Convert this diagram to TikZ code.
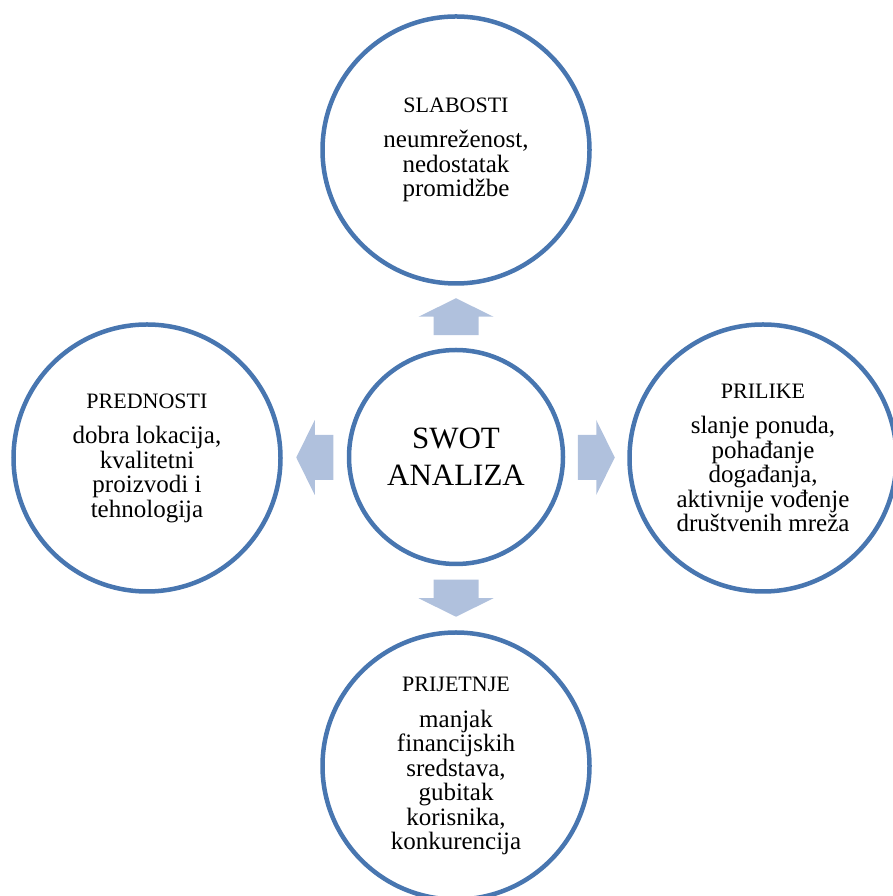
\documentclass[tikz,border=0pt]{standalone}
\usepackage{fontspec}
\setmainfont{Liberation Serif}
\usetikzlibrary{calc}

\definecolor{krugplava}{RGB}{72,118,176}
\definecolor{strelicaplava}{RGB}{176,193,221}
\newcommand{\naslov}[1]{{\fontsize{22}{24.5}\selectfont #1}}

\tikzset{
	krug/.style={circle,draw=krugplava,line width=4.5pt,fill=white,minimum size=267pt,inner sep=0pt,align=center,font=\fontsize{25}{24.5}\selectfont},
	strelica/.pic={
		\fill[strelicaplava] (0,18.5)--(37.5,0)--(22.5,0)--(22.5,-18.5)--(-22.5,-18.5)--(-22.5,0)--(-37.5,0)--cycle;
	}
}

\begin{document}
\begin{tikzpicture}[x=1pt,y=1pt]
	\useasboundingbox (0,0) rectangle (892,896);
	
	\node[krug] (slabosti) at (456,746) {\naslov{SLABOSTI}\\[11pt]neumreženost,\\nedostatak\\promidžbe};
	\node[krug] (prednosti) at (147,438) {\naslov{PREDNOSTI}\\[11pt]dobra lokacija,\\kvalitetni\\proizvodi i\\tehnologija};
	\node[krug] (prilike) at (763,438) {\naslov{PRILIKE}\\[11pt]slanje ponuda,\\pohađanje\\događanja,\\aktivnije vođenje\\društvenih mreža};
	\node[krug] (prijetnje) at (456,130) {\naslov{PRIJETNJE}\\[11pt]manjak\\financijskih\\sredstava,\\gubitak\\korisnika,\\konkurencija};
	
	\node[krug,minimum size=214pt,font=\fontsize{31}{37}\selectfont] (swot) at (456,439) {SWOT\\ANALIZA};
	
	\pic[rotate=0] at ($(swot.north)!.5!(slabosti.south)$) {strelica};
	\pic[rotate=90] at ($(swot.west)!.5!(prednosti.east)$) {strelica};
	\pic[rotate=-90] at ($(swot.east)!.5!(prilike.west)$) {strelica};
	\pic[rotate=180] at ($(swot.south)!.5!(prijetnje.north)$) {strelica};
\end{tikzpicture}
\end{document}
